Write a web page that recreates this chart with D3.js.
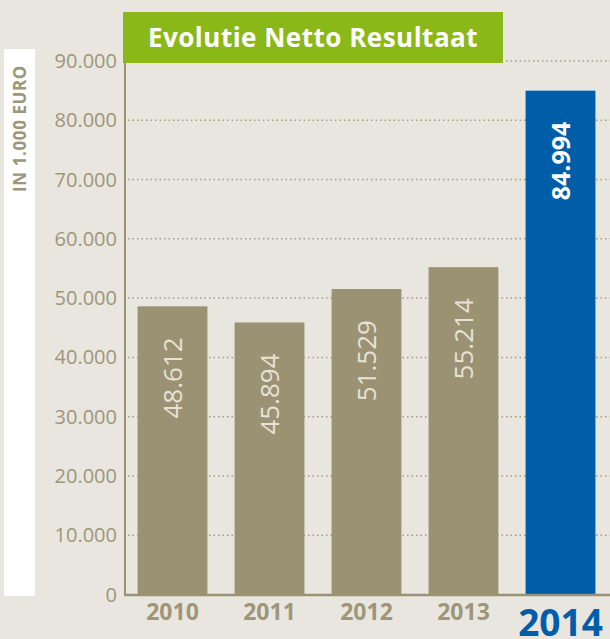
<!doctype html>
<html>
  <head>
    <script src="https://cdnjs.cloudflare.com/ajax/libs/d3/7.8.5/d3.min.js"></script>
    <style>
      body { margin: 0; background: #e9e6e0; }
      svg { display: block; font-family: "Open Sans", sans-serif; }
      .grid line { stroke: #a39d84; stroke-width: 1.5; stroke-dasharray: 1.5 3; }
      .tick-label { fill: #9d9679; font-size: 20px; }
      .year { fill: #9d9679; font-size: 23px; font-weight: bold; }
      .year.current { fill: #005ea8; font-size: 37px; }
      .value { fill: #e6e2d6; font-size: 26px; }
      .value.current { fill: #ffffff; font-weight: bold; font-size: 25px; }
    </style>
  </head>
  <body>
    <svg width="610" height="639"></svg>
    <script>
      var years = ["2010", "2011", "2012", "2013", "2014"];
      var results = [48612, 45894, 51529, 55214, 84994];
      var yTicks = [0, 10000, 20000, 30000, 40000, 50000, 60000, 70000, 80000, 90000];
      var title = "Evolutie Netto Resultaat";
      var unitLabel = "IN 1.000 EURO";

      var nl = d3.formatLocale({decimal: ",", thousands: ".", grouping: [3], currency: ["€", ""]});
      var fmt = nl.format(",d");

      var svg = d3.select("svg");

      var x = d3.scaleBand()
        .domain(years)
        .range([124.5, 608.5])
        .paddingInner(0.28)
        .paddingOuter(0.135);

      var y = d3.scaleLinear()
        .domain([0, 90000])
        .range([594.5, 61]);

      // white strip with unit label
      svg.append("rect")
        .attr("x", 4).attr("y", 49)
        .attr("width", 31).attr("height", 547)
        .attr("fill", "#ffffff");

      svg.append("text")
        .attr("transform", "translate(26,65) rotate(-90)")
        .attr("text-anchor", "end")
        .attr("fill", "#9d9679")
        .attr("font-size", "17px")
        .attr("font-weight", "bold")
        .attr("letter-spacing", "0.6px")
        .text(unitLabel);

      // dotted grid
      svg.append("g").attr("class", "grid")
        .selectAll("line")
        .data(yTicks.filter(d => d > 0))
        .enter().append("line")
          .attr("x1", 128).attr("x2", 610)
          .attr("y1", d => y(d)).attr("y2", d => y(d));

      // tick labels
      svg.append("g")
        .selectAll("text")
        .data(yTicks)
        .enter().append("text")
          .attr("class", "tick-label")
          .attr("x", 117)
          .attr("y", d => y(d))
          .attr("dy", "0.35em")
          .attr("text-anchor", "end")
          .text(d => fmt(d));

      // bars
      svg.append("g")
        .selectAll("rect")
        .data(results)
        .enter().append("rect")
          .attr("x", (d, i) => x(years[i]))
          .attr("width", x.bandwidth())
          .attr("y", d => y(d))
          .attr("height", d => y(0) - y(d))
          .attr("fill", (d, i) => i === results.length - 1 ? "#005ea8" : "#9a9272");

      // value labels inside bars
      svg.append("g")
        .selectAll("text")
        .data(results)
        .enter().append("text")
          .attr("class", (d, i) => i === results.length - 1 ? "value current" : "value")
          .attr("transform", (d, i) =>
            "translate(" + (x(years[i]) + x.bandwidth() / 2 + 9.5) + "," + (y(d) + 31) + ") rotate(-90)")
          .attr("text-anchor", "end")
          .text(d => fmt(d));

      // axes lines
      svg.append("line")
        .attr("x1", 125).attr("x2", 125)
        .attr("y1", 62).attr("y2", 596)
        .attr("stroke", "#9a9272").attr("stroke-width", 2);

      svg.append("line")
        .attr("x1", 124).attr("x2", 610)
        .attr("y1", 595).attr("y2", 595)
        .attr("stroke", "#9a9272").attr("stroke-width", 2.5);

      // year labels
      svg.append("g")
        .selectAll("text")
        .data(years)
        .enter().append("text")
          .attr("class", (d, i) => i === years.length - 1 ? "year current" : "year")
          .attr("x", d => x(d) + x.bandwidth() / 2)
          .attr("y", (d, i) => i === years.length - 1 ? 636 : 620)
          .attr("text-anchor", "middle")
          .text(d => d);

      // title box
      svg.append("rect")
        .attr("x", 123).attr("y", 12)
        .attr("width", 380).attr("height", 51)
        .attr("fill", "#8ab818");

      svg.append("text")
        .attr("x", 313).attr("y", 47)
        .attr("text-anchor", "middle")
        .attr("fill", "#ffffff")
        .attr("font-size", "26px")
        .attr("font-weight", "bold")
        .attr("letter-spacing", "0.5px")
        .text(title);
    </script>
  </body>
</html>
